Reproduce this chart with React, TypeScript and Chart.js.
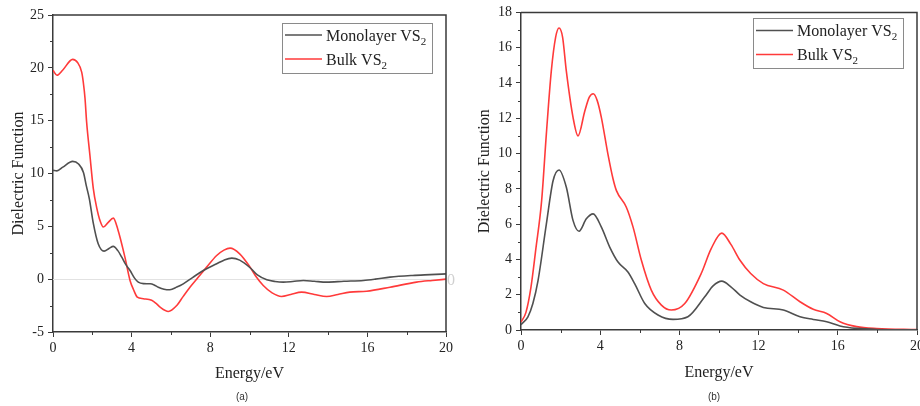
import React, { useEffect, useRef } from 'react';
import { Chart, registerables } from 'chart.js';

Chart.register(...registerables);

// ---------- data ----------
const SERIES_LABELS = ['Monolayer VS₂', 'Bulk VS₂'];
const SERIES_COLORS = ['#505050', '#ff3a3a'];
const X_TITLE = 'Energy/eV';
const Y_TITLE = 'Dielectric Function';
const CAPTIONS = ['(a)', '(b)'];

// Panel (a): real part
const aMonoE = [0, 0.2, 0.5, 1.0, 1.3, 1.55, 1.7, 1.85, 2.05, 2.3, 2.6, 2.85, 3.07, 3.3, 3.5, 3.7, 3.92, 4.15, 4.34, 4.6, 4.94, 5.15, 5.36, 5.65, 5.95, 6.3, 6.63, 7.1, 7.65, 8.33, 8.7, 9.1, 9.5, 10.03, 10.4, 10.88, 11.3, 11.72, 12.2, 12.74, 13.3, 13.93, 14.8, 15.8, 16.4, 17.15, 18.3, 19.2, 20];
const aMonoV = [10.3, 10.25, 10.6, 11.15, 10.9, 10.1, 8.8, 7.6, 5.3, 3.35, 2.65, 2.9, 3.1, 2.7, 2.08, 1.4, 0.82, 0.1, -0.28, -0.42, -0.44, -0.55, -0.76, -0.95, -1.0, -0.75, -0.44, 0.15, 0.82, 1.46, 1.8, 1.99, 1.8, 1.08, 0.4, -0.06, -0.22, -0.28, -0.22, -0.12, -0.2, -0.28, -0.2, -0.12, 0.0, 0.19, 0.35, 0.43, 0.5];
const aBulkE = [0, 0.2, 0.5, 1.0, 1.25, 1.46, 1.54, 1.63, 1.71, 1.88, 2.05, 2.22, 2.4, 2.56, 2.8, 3.07, 3.3, 3.66, 3.92, 4.1, 4.29, 4.6, 5.02, 5.25, 5.45, 5.87, 6.3, 6.6, 6.97, 7.4, 7.82, 8.33, 8.7, 9.01, 9.5, 10.03, 10.35, 10.7, 11.15, 11.63, 12.1, 12.65, 13.3, 13.93, 14.5, 15.1, 15.96, 17.15, 18.5, 19.3, 20];
const aBulkV = [19.76, 19.3, 19.8, 20.8, 20.5, 19.6, 18.66, 17.1, 14.9, 11.7, 8.6, 6.8, 5.5, 4.93, 5.35, 5.78, 4.7, 2.08, -0.12, -1.0, -1.7, -1.85, -2.0, -2.3, -2.65, -3.06, -2.49, -1.7, -0.76, 0.2, 1.14, 2.24, 2.75, 2.94, 2.4, 1.14, 0.2, -0.6, -1.3, -1.64, -1.45, -1.23, -1.45, -1.64, -1.45, -1.23, -1.14, -0.76, -0.28, -0.12, 0.0];

// Panel (b): imaginary part
const bMonoE = [0, 0.35, 0.6, 0.86, 1.28, 1.62, 1.92, 2.29, 2.63, 2.93, 3.3, 3.64, 4.06, 4.48, 4.9, 5.4, 5.74, 6.25, 6.92, 7.68, 8.43, 9.28, 9.7, 10.14, 10.6, 11.06, 11.6, 12.24, 13.25, 14.09, 14.76, 15.44, 16.11, 16.95, 18, 20];
const bMonoV = [0.3, 0.75, 1.5, 2.8, 6.0, 8.46, 9.07, 8.09, 6.2, 5.6, 6.3, 6.58, 5.83, 4.7, 3.85, 3.29, 2.63, 1.5, 0.85, 0.6, 0.75, 1.88, 2.5, 2.77, 2.45, 1.98, 1.6, 1.28, 1.13, 0.75, 0.6, 0.47, 0.23, 0.09, 0.03, 0.01];
const bBulkE = [0, 0.25, 0.5, 0.75, 1.04, 1.28, 1.53, 1.75, 1.92, 2.1, 2.29, 2.63, 2.88, 3.22, 3.45, 3.65, 3.85, 4.06, 4.39, 4.65, 4.82, 5.32, 5.66, 6.08, 6.58, 7.09, 7.59, 8.27, 9.1, 9.6, 10.14, 10.6, 11.06, 11.6, 12.24, 13.25, 14.09, 14.76, 15.44, 16.11, 16.95, 17.96, 20];
const bBulkV = [0.45, 1.0, 2.4, 4.6, 7.3, 11.1, 14.67, 16.6, 17.12, 16.6, 14.67, 12.04, 11.0, 12.4, 13.2, 13.39, 13.0, 12.04, 9.97, 8.56, 7.9, 6.96, 5.83, 3.95, 2.26, 1.41, 1.13, 1.5, 3.2, 4.6, 5.49, 4.85, 3.95, 3.2, 2.63, 2.26, 1.6, 1.17, 0.94, 0.47, 0.19, 0.08, 0.02];

const X_MIN = 0, X_MAX = 20, X_STEP = 4, X_MINOR = 2;
const A_Y_MIN = -5, A_Y_MAX = 25, A_Y_STEP = 5, A_Y_MINOR = 2.5;
const B_Y_MIN = 0, B_Y_MAX = 18, B_Y_STEP = 2, B_Y_MINOR = 1;

const FONT = "'Liberation Serif', 'Times New Roman', serif";
const AXIS_COLOR = '#3a3a3a';
const TEXT_COLOR = '#222';

const toPts = (xs: number[], ys: number[]) => xs.map((x, i) => ({ x, y: ys[i] }));

// ---------- plugins ----------
const framePlugin = {
  id: 'frameMinor',
  afterDatasetsDraw(chart: any, _args: any, opts: any) {
    const { ctx, chartArea: a, scales } = chart;
    ctx.save();
    ctx.strokeStyle = AXIS_COLOR;
    ctx.lineWidth = 1.5;
    ctx.beginPath();
    ctx.moveTo(a.left, a.top);
    ctx.lineTo(a.right, a.top);
    ctx.lineTo(a.right, a.bottom);
    ctx.stroke();
    ctx.lineWidth = 1;
    const xs = scales.x, ys = scales.y;
    ctx.beginPath();
    for (let v = xs.min; v <= xs.max + 1e-9; v += opts.xMinor) {
      if (Math.abs(v / opts.xMajor - Math.round(v / opts.xMajor)) < 1e-6) continue;
      const px = Math.round(xs.getPixelForValue(v)) + 0.5;
      ctx.moveTo(px, a.bottom);
      ctx.lineTo(px, a.bottom + 3);
    }
    for (let v = ys.min; v <= ys.max + 1e-9; v += opts.yMinor) {
      if (Math.abs((v - ys.min) / opts.yMajor - Math.round((v - ys.min) / opts.yMajor)) < 1e-6) continue;
      const py = Math.round(ys.getPixelForValue(v)) + 0.5;
      ctx.moveTo(a.left, py);
      ctx.lineTo(a.left - 3, py);
    }
    ctx.stroke();
    ctx.restore();
  },
};

const zeroLinePlugin = {
  id: 'zeroLine',
  beforeDatasetsDraw(chart: any, _args: any, opts: any) {
    if (!opts.show) return;
    const { ctx, chartArea: a, scales } = chart;
    const py = Math.round(scales.y.getPixelForValue(0)) + 0.5;
    ctx.save();
    ctx.strokeStyle = '#e2e2e2';
    ctx.lineWidth = 1;
    ctx.beginPath();
    ctx.moveTo(a.left, py);
    ctx.lineTo(a.right, py);
    ctx.stroke();
    ctx.fillStyle = '#d0d0d0';
    ctx.font = `16px ${FONT}`;
    ctx.textBaseline = 'middle';
    ctx.textAlign = 'left';
    ctx.fillText('0', a.right + 1, py + 1);
    ctx.restore();
  },
};

const subLegendPlugin = {
  id: 'subLegend',
  afterDraw(chart: any, _args: any, opts: any) {
    const { ctx, chartArea: a } = chart;
    const w = 150, h = 50;
    const bx = a.right - opts.insetRight - w;
    const by = a.top + opts.insetTop;
    ctx.save();
    ctx.fillStyle = '#fff';
    ctx.fillRect(bx, by, w, h);
    ctx.strokeStyle = '#8a8a8a';
    ctx.lineWidth = 1;
    ctx.strokeRect(Math.round(bx) + 0.5, Math.round(by) + 0.5, w, h);
    chart.data.datasets.forEach((ds: any, i: number) => {
      const cy = by + 12 + i * 24;
      ctx.strokeStyle = ds.borderColor;
      ctx.lineWidth = 1.5;
      ctx.beginPath();
      ctx.moveTo(bx + 3, cy);
      ctx.lineTo(bx + 40, cy);
      ctx.stroke();
      const label: string = ds.label;
      const hasSub = label.endsWith('₂');
      const main = hasSub ? label.slice(0, -1) : label;
      ctx.fillStyle = TEXT_COLOR;
      ctx.textBaseline = 'alphabetic';
      ctx.textAlign = 'left';
      ctx.font = `16px ${FONT}`;
      const tx = bx + 44;
      const ty = cy + 5.5;
      ctx.fillText(main, tx, ty);
      if (hasSub) {
        const mw = ctx.measureText(main).width;
        ctx.font = `11px ${FONT}`;
        ctx.fillText('2', tx + mw, ty + 4);
      }
    });
    ctx.restore();
  },
};

type PanelCfg = {
  monoE: number[]; monoV: number[]; bulkE: number[]; bulkV: number[];
  yMin: number; yMax: number; yStep: number; yMinor: number;
  padTop: number; padRight: number; yWidth: number; xHeight: number;
  yTitlePad: number; xTitlePad: number; zero: boolean;
  legendInsetTop: number;
};

function Panel({ cfg, width, height }: { cfg: PanelCfg; width: number; height: number }) {
  const ref = useRef<HTMLCanvasElement | null>(null);
  useEffect(() => {
    if (!ref.current) return;
    const chart = new Chart(ref.current, {
      type: 'line',
      data: {
        datasets: [
          {
            label: SERIES_LABELS[0],
            data: toPts(cfg.monoE, cfg.monoV),
            borderColor: SERIES_COLORS[0],
            borderWidth: 1.6,
            pointRadius: 0,
            cubicInterpolationMode: 'monotone',
            fill: false,
          },
          {
            label: SERIES_LABELS[1],
            data: toPts(cfg.bulkE, cfg.bulkV),
            borderColor: SERIES_COLORS[1],
            borderWidth: 1.6,
            pointRadius: 0,
            cubicInterpolationMode: 'monotone',
            fill: false,
          },
        ],
      },
      options: {
        responsive: false,
        animation: false,
        devicePixelRatio: 1,
        layout: { padding: { top: cfg.padTop, right: cfg.padRight, left: 0, bottom: 0 } },
        plugins: {
          legend: { display: false },
          tooltip: { enabled: false },
          frameMinor: { xMinor: X_MINOR, xMajor: X_STEP, yMinor: cfg.yMinor, yMajor: cfg.yStep },
          zeroLine: { show: cfg.zero },
          subLegend: { insetRight: 14, insetTop: cfg.legendInsetTop },
        } as any,
        scales: {
          x: {
            type: 'linear',
            min: X_MIN,
            max: X_MAX,
            ticks: { stepSize: X_STEP, color: TEXT_COLOR, font: { family: FONT, size: 14 }, padding: 3, maxRotation: 0, autoSkip: false },
            grid: { display: true, drawOnChartArea: false, drawTicks: true, tickLength: 5, tickColor: AXIS_COLOR, tickWidth: 1 },
            border: { display: true, color: AXIS_COLOR, width: 1.5 },
            title: { display: true, text: X_TITLE, color: TEXT_COLOR, font: { family: FONT, size: 16 }, padding: { top: 0, bottom: cfg.xTitlePad } },
            afterFit: (s: any) => { s.height = cfg.xHeight; },
          },
          y: {
            type: 'linear',
            min: cfg.yMin,
            max: cfg.yMax,
            ticks: { stepSize: cfg.yStep, color: TEXT_COLOR, font: { family: FONT, size: 14 }, padding: 4 },
            grid: { display: true, drawOnChartArea: false, drawTicks: true, tickLength: 5, tickColor: AXIS_COLOR, tickWidth: 1 },
            border: { display: true, color: AXIS_COLOR, width: 1.5 },
            title: { display: true, text: Y_TITLE, color: TEXT_COLOR, font: { family: FONT, size: 16 }, padding: { top: cfg.yTitlePad, bottom: 0 } },
            afterFit: (s: any) => { s.width = cfg.yWidth; },
          },
        },
      },
      plugins: [zeroLinePlugin, framePlugin, subLegendPlugin],
    } as any);
    return () => chart.destroy();
  }, [cfg]);
  return <canvas ref={ref} width={width} height={height} style={{ display: 'block', width, height }} />;
}

const cfgA: PanelCfg = {
  monoE: aMonoE, monoV: aMonoV, bulkE: aBulkE, bulkV: aBulkV,
  yMin: A_Y_MIN, yMax: A_Y_MAX, yStep: A_Y_STEP, yMinor: A_Y_MINOR,
  padTop: 15, padRight: 14, yWidth: 53, xHeight: 74,
  yTitlePad: 9, xTitlePad: 23, zero: true, legendInsetTop: 8,
};
const cfgB: PanelCfg = {
  monoE: bMonoE, monoV: bMonoV, bulkE: bBulkE, bulkV: bBulkV,
  yMin: B_Y_MIN, yMax: B_Y_MAX, yStep: B_Y_STEP, yMinor: B_Y_MINOR,
  padTop: 11, padRight: 23, yWidth: 61, xHeight: 76,
  yTitlePad: 15, xTitlePad: 24, zero: false, legendInsetTop: 6,
};

export default function App() {
  const cap: React.CSSProperties = {
    position: 'absolute', top: 390, width: 40, textAlign: 'center',
    font: "10px 'Liberation Sans', Arial, sans-serif", color: '#333', lineHeight: '14px',
  };
  return (
    <div style={{ position: 'fixed', left: 0, top: 0, width: 920, height: 406, overflow: 'hidden', background: '#fff' }}>
      <div style={{ position: 'absolute', left: 0, top: 0 }}>
        <Panel cfg={cfgA} width={460} height={406} />
      </div>
      <div style={{ position: 'absolute', left: 460, top: 0 }}>
        <Panel cfg={cfgB} width={480} height={406} />
      </div>
      <div style={{ ...cap, left: 222 }}>{CAPTIONS[0]}</div>
      <div style={{ ...cap, left: 694 }}>{CAPTIONS[1]}</div>
    </div>
  );
}
